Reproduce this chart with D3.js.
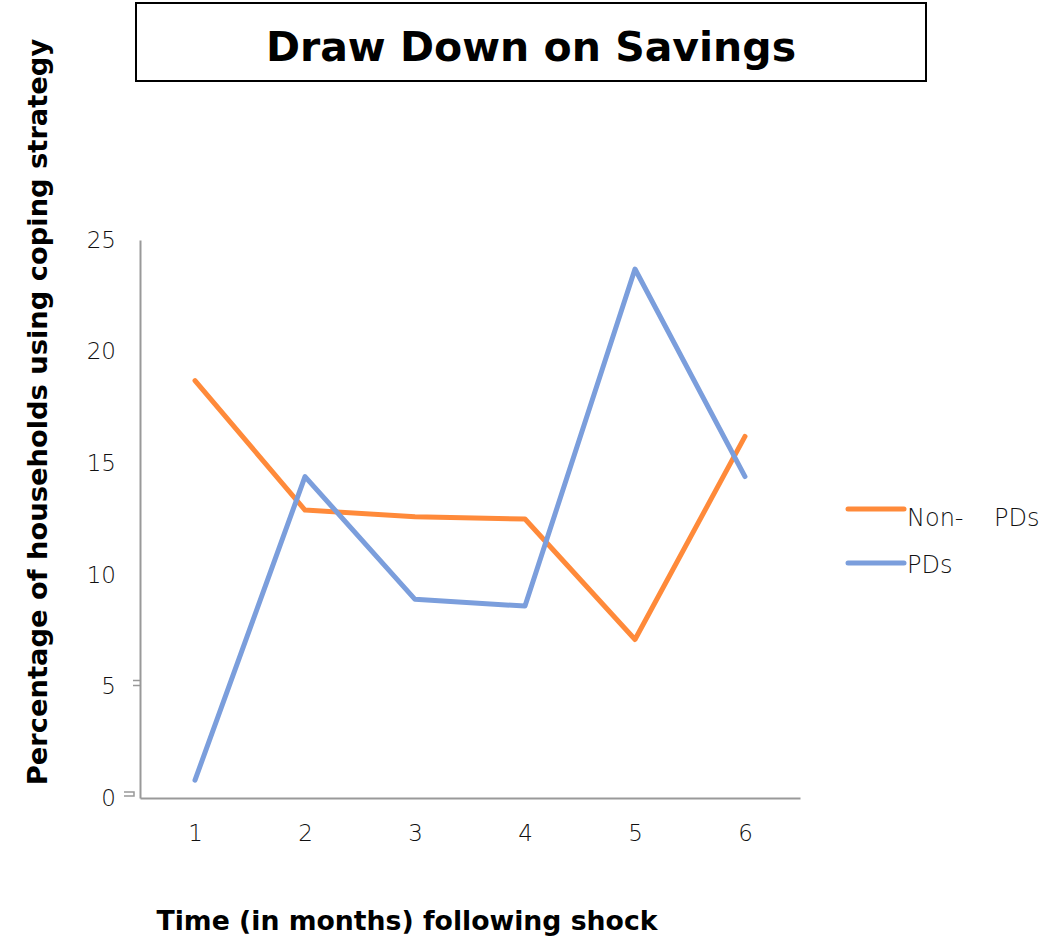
<!DOCTYPE html>
<html lang="en">
<head>
    <meta charset="UTF-8">
    <title>Draw Down on Savings</title>
    <style>
        body { margin: 0; background: #fff; }
        svg { font-family: "DejaVu Sans", sans-serif; }
    </style>
</head>
<body>
    <div id="graphic"></div>

    <script src="https://cdn.jsdelivr.net/npm/d3@7"></script>
    <script>
        var width = 1048;
        var height = 939;

        // data
        var months = [1, 2, 3, 4, 5, 6];
        var nonPDs = [18.7, 12.9, 12.6, 12.5, 7.1, 16.2];
        var pds = [0.8, 14.4, 8.9, 8.6, 23.7, 14.4];
        var yTicks = [0, 5, 10, 15, 20, 25];

        var series = [
            { name: 'Non-    PDs', values: nonPDs, color: '#FF8A3A' },
            { name: 'PDs', values: pds, color: '#7B9EDC' }
        ];

        var svg = d3.select('#graphic')
            .append('svg')
            .attr('width', width)
            .attr('height', height);

        var x = d3.scalePoint().domain(months).range([140, 800]).padding(0.5);
        var y = d3.scaleLinear().domain([0, 25]).range([798, 240]);

        // title box
        svg.append('rect')
            .attr('x', 136).attr('y', 3)
            .attr('width', 790).attr('height', 78)
            .attr('fill', 'none')
            .attr('stroke', '#000')
            .attr('stroke-width', 2);

        svg.append('text')
            .attr('x', 531).attr('y', 61)
            .attr('text-anchor', 'middle')
            .attr('font-size', 41)
            .attr('font-weight', 'bold')
            .text('Draw Down on Savings');

        // y axis
        var yAxis = svg.append('g')
            .attr('transform', 'translate(140,0)')
            .call(d3.axisLeft(y).tickValues(yTicks).tickSize(0).tickPadding(24));
        yAxis.select('.domain').attr('stroke', '#999').attr('stroke-width', 2);
        yAxis.selectAll('text').attr('font-size', 23).attr('fill', '#111')
            .attr('font-family', '"DejaVu Sans", sans-serif').attr('font-weight', 200);

        // x axis
        var xAxis = svg.append('g')
            .attr('transform', 'translate(0,798)')
            .call(d3.axisBottom(x).tickSize(0).tickPadding(27));
        xAxis.select('.domain').attr('stroke', '#999').attr('stroke-width', 2);
        xAxis.selectAll('text').attr('font-size', 23).attr('fill', '#111')
            .attr('font-family', '"DejaVu Sans", sans-serif').attr('font-weight', 200);

        // the small stray marks near 5 and 0
        svg.append('path')
            .attr('d', 'M133,' + (y(5) - 6) + 'H140M133,' + (y(5) - 1) + 'H140')
            .attr('stroke', '#999').attr('stroke-width', 1.5).attr('fill', 'none');
        svg.append('path')
            .attr('d', 'M124,' + (y(0) - 6) + 'H134V' + (y(0) - 2) + 'H124')
            .attr('stroke', '#999').attr('stroke-width', 1.5).attr('fill', 'none');

        // lines
        var line = d3.line()
            .x(function(d, i) { return x(months[i]); })
            .y(function(d) { return y(d); });

        svg.selectAll('.series')
            .data(series)
            .join('path')
            .attr('class', 'series')
            .attr('d', function(d) { return line(d.values); })
            .attr('fill', 'none')
            .attr('stroke', function(d) { return d.color; })
            .attr('stroke-width', 5)
            .attr('stroke-linecap', 'round')
            .attr('stroke-linejoin', 'round');

        // legend
        var legend = svg.selectAll('.legend')
            .data(series)
            .join('g')
            .attr('class', 'legend')
            .attr('transform', function(d, i) { return 'translate(848,' + (509 + i * 54) + ')'; });

        legend.append('line')
            .attr('x1', 0).attr('x2', 56)
            .attr('stroke', function(d) { return d.color; })
            .attr('stroke-width', 5)
            .attr('stroke-linecap', 'round');

        legend.append('text')
            .attr('x', 59)
            .attr('y', function(d, i) { return i === 0 ? 17 : 10; })
            .attr('font-size', 24)
            .attr('font-weight', 200)
            .attr('fill', '#111')
            .attr('xml:space', 'preserve')
            .style('white-space', 'pre')
            .text(function(d) { return d.name; });

        // axis titles
        svg.append('text')
            .attr('transform', 'translate(47,412) rotate(-90)')
            .attr('text-anchor', 'middle')
            .attr('font-size', 27.3)
            .attr('font-weight', 'bold')
            .text('Percentage of households using coping strategy');

        svg.append('text')
            .attr('x', 407).attr('y', 930)
            .attr('text-anchor', 'middle')
            .attr('font-size', 26.7)
            .attr('font-weight', 'bold')
            .text('Time (in months) following shock');
    </script>
</body>
</html>
